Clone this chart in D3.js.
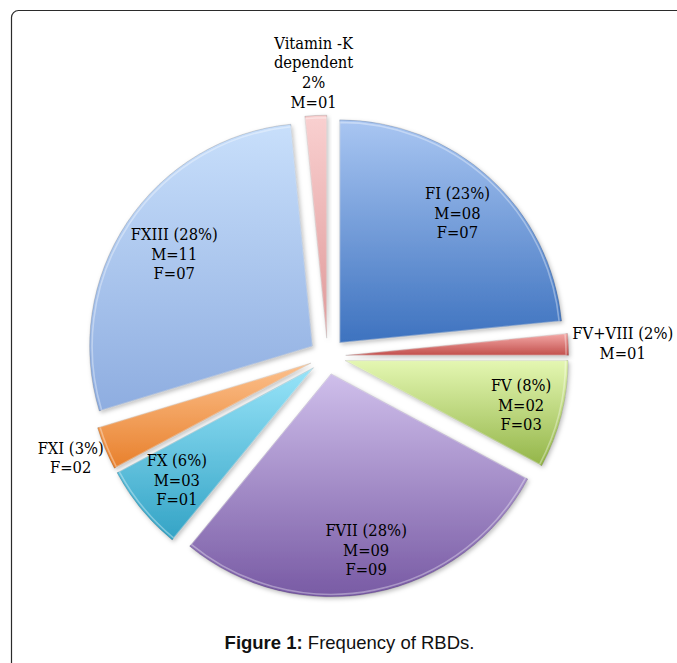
<!DOCTYPE html>
<html>
<head>
<meta charset="utf-8">
<script src="https://cdn.jsdelivr.net/npm/d3@7"></script>
<style>
  html, body { margin: 0; padding: 0; background: #fff; }
  svg { display: block; }
</style>
</head>
<body>
<div id="chart"></div>
<script>
/* Figure 1 — Frequency of RBDs (exploded pie, Excel-ish bevel look) */

const factors = ['FI', 'FV+VIII', 'FV', 'FVII', 'FX', 'FXI', 'FXIII', 'Vitamin -K dependent'];
const males   = [8, 1, 2, 9, 3, 0, 11, 1];
const females = [7, 0, 3, 9, 1, 2, 7, 0];
const caption = { bold: 'Figure 1:', rest: ' Frequency of RBDs.' };

// top / bottom gradient stops per slice
const colorTop    = ['#a9c6f2', '#f4a9a7', '#e4f7b2', '#cfbfeb', '#98e4f9', '#fcc08c', '#c8dffb', '#f9d0d0'];
const colorBottom = ['#3d72bf', '#c24f4c', '#93b548', '#785aa4', '#33a3c5', '#e8802c', '#8eade0', '#df9898'];

(function () {
  const W = 677, H = 663;
  const cx = 327.6, cy = 356.2;
  const R = 223;
  const explode = 18;
  const pad2 = d => String(d).padStart(2, '0');

  const data = factors.map((name, i) => ({
    name, i,
    male: males[i],
    female: females[i],
    value: males[i] + females[i]
  }));
  const total = d3.sum(data, d => d.value);

  const svg = d3.select('#chart').append('svg')
    .attr('width', W).attr('height', H)
    .attr('viewBox', `0 0 ${W} ${H}`);

  const defs = svg.append('defs');

  data.forEach(d => {
    const lg = defs.append('linearGradient')
      .attr('id', `grad-${d.i}`)
      .attr('x1', 0).attr('y1', 0).attr('x2', 0).attr('y2', 1);
    lg.append('stop').attr('offset', '0%').attr('stop-color', colorTop[d.i]);
    lg.append('stop').attr('offset', '100%').attr('stop-color', colorBottom[d.i]);
  });

  const shadow = defs.append('filter')
    .attr('id', 'soft-shadow')
    .attr('x', '-20%').attr('y', '-20%').attr('width', '140%').attr('height', '140%');
  shadow.append('feDropShadow')
    .attr('dx', 1.5).attr('dy', 2)
    .attr('stdDeviation', 2.2)
    .attr('flood-color', '#000')
    .attr('flood-opacity', 0.25);

  // figure frame (only top/left edges visible in the crop)
  svg.append('rect')
    .attr('x', 11.5).attr('y', 10.5)
    .attr('width', 720).attr('height', 720)
    .attr('rx', 7)
    .attr('fill', 'none')
    .attr('stroke', '#2b2b2b')
    .attr('stroke-width', 1.2);

  const pie = d3.pie().sort(null).value(d => d.value);
  const arcs = pie(data);
  const arc = d3.arc().innerRadius(0).outerRadius(R);
  const innerArc = d3.arc().innerRadius(0).outerRadius(R - 2.5);

  const g = svg.append('g').attr('transform', `translate(${cx},${cy})`);

  const midAngle = a => (a.startAngle + a.endAngle) / 2;
  const dir = a => [Math.sin(midAngle(a)), -Math.cos(midAngle(a))];

  const slice = g.selectAll('.slice')
    .data(arcs)
    .enter()
    .append('g')
    .attr('class', 'slice')
    .attr('transform', a => {
      const [ux, uy] = dir(a);
      return `translate(${ux * explode},${uy * explode})`;
    });

  slice.append('path')
    .attr('d', arc)
    .attr('fill', a => `url(#grad-${a.data.i})`)
    .attr('stroke', 'rgba(0,0,0,0.18)')
    .attr('stroke-width', 0.8)
    .attr('filter', 'url(#soft-shadow)');

  // light bevel rim
  slice.append('path')
    .attr('d', innerArc)
    .attr('fill', 'none')
    .attr('stroke', 'rgba(255,255,255,0.35)')
    .attr('stroke-width', 1.6)
    .attr('stroke-linejoin', 'round');

  function labelLines(d) {
    const pct = Math.round(d.value / total * 100);
    const lines = [];
    if (d.name.indexOf(' ') > -1) {
      d.name.split(/ (?=d)/).forEach(s => lines.push(s));
      lines.push(`${pct}%`);
    } else {
      lines.push(`${d.name} (${pct}%)`);
    }
    if (d.male > 0) lines.push(`M=${pad2(d.male)}`);
    if (d.female > 0) lines.push(`F=${pad2(d.female)}`);
    return lines;
  }

  const lh = 19.6;

  // labels live in each slice group, so positions are relative to the slice tip
  slice.each(function (a) {
    const lines = labelLines(a.data);
    const t = d3.select(this).append('text')
      .attr('text-anchor', 'middle')
      .style('font-family', '"DejaVu Serif Condensed", "DejaVu Serif", serif')
      .style('font-stretch', 'condensed')
      .style('font-size', '16.4px')
      .style('fill', '#000');
    const y0 = -(lines.length - 1) * lh / 2;
    lines.forEach((s, k) => {
      t.append('tspan')
        .attr('x', 0)
        .attr('y', y0 + k * lh)
        .attr('dy', '0.36em')
        .text(s);
    });

    const bb = t.node().getBBox();
    const w = bb.width, h = lines.length * lh;
    const [ux, uy] = dir(a);
    let px, py;
    if (a.data.value / total < 0.04) {
      // outside end: box touches a point just beyond the rim
      const r0 = R + 4;
      px = ux * r0 + ux * w / 2;
      py = uy * r0 + uy * h / 2;
    } else {
      // inside end: farthest corner of the box sits just inside the rim
      const m = 4;
      const b = Math.abs(ux) * w / 2 + Math.abs(uy) * h / 2;
      const c = (w * w + h * h) / 4 - (R - m) * (R - m);
      const tt = -b + Math.sqrt(b * b - c);
      px = ux * tt;
      py = uy * tt;
    }
    t.attr('transform', `translate(${px},${py})`);
  });

  const cap = svg.append('text')
    .attr('x', 349.5).attr('y', 649)
    .attr('text-anchor', 'middle')
    .style('font-family', '"Liberation Sans", Arial, sans-serif')
    .style('font-size', '18.5px')
    .style('fill', '#111');
  cap.append('tspan').style('font-weight', 'bold').text(caption.bold);
  cap.append('tspan').text(caption.rest);
})();
</script>
</body>
</html>
